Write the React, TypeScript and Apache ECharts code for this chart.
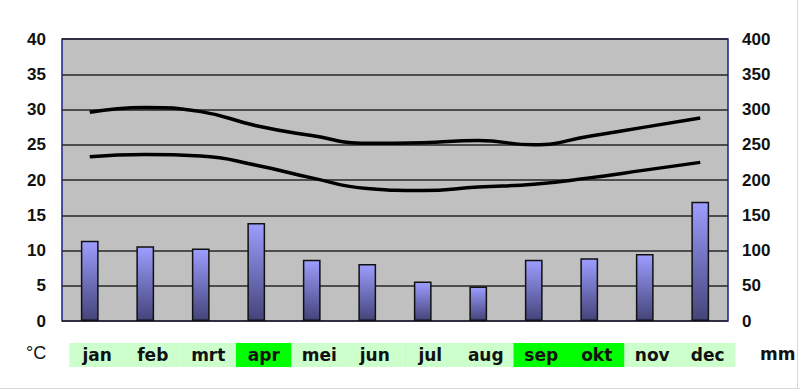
import React, { useEffect, useRef } from "react";
import * as echarts from "echarts";

const months = ["jan", "feb", "mrt", "apr", "mei", "jun", "jul", "aug", "sep", "okt", "nov", "dec"];
const highlighted = ["apr", "sep", "okt"];
const tempMax = [29.6, 30.3, 29.7, 27.7, 26.3, 25.2, 25.3, 25.6, 25.0, 26.2, 27.5, 28.8];
const tempMin = [23.3, 23.6, 23.4, 22.1, 20.3, 18.8, 18.5, 19.0, 19.4, 20.3, 21.4, 22.5];
const rainfall = [114, 106, 103, 139, 87, 81, 56, 49, 87, 89, 95, 169];

export default function App() {
  const ref = useRef<HTMLDivElement>(null);
  useEffect(() => {
    if (!ref.current) return;
    const chart = echarts.init(ref.current, undefined, { renderer: "svg" });
    const font = "Liberation Sans, Arial, sans-serif";
    const monthFont = "DejaVu Sans, Verdana, sans-serif";
    const labelColor = "#111111";
    const cell = (bg: string) => ({
      backgroundColor: bg,
      width: 55.5,
      height: 24,
      lineHeight: 24,
      align: "center",
      fontFamily: monthFont,
      fontWeight: "bold",
      fontSize: 17,
      color: labelColor,
    });
    chart.setOption({
      animation: false,
      backgroundColor: "#ffffff",
      grid: {
        left: 62,
        right: 72,
        top: 39,
        bottom: 70,
        show: true,
        backgroundColor: "#c0c0c0",
        borderColor: "#1c1c8c",
        borderWidth: 1.5,
      },
      xAxis: {
        type: "category",
        data: months,
        axisLine: { show: false },
        axisTick: { show: false },
        splitLine: { show: false },
        axisLabel: {
          margin: 22,
          interval: 0,
          formatter: (v: string) => (highlighted.includes(v) ? `{sp|}{hi|${v}}` : `{sp|}{lo|${v}}`),
          rich: {
            sp: { width: 15, height: 24 },
            hi: cell("#00ff00"),
            lo: cell("#ccffcc"),
          },
        },
      },
      yAxis: [
        {
          type: "value",
          min: 0,
          max: 40,
          interval: 5,
          axisLine: { show: false },
          axisTick: { show: false },
          splitLine: { show: true, lineStyle: { color: "#262626", width: 1.5 } },
          axisLabel: {
            margin: 16,
            fontFamily: font,
            fontWeight: "bold",
            fontSize: 17,
            color: labelColor,
          },
        },
        {
          type: "value",
          min: 0,
          max: 400,
          interval: 50,
          position: "right",
          axisLine: { show: false },
          axisTick: { show: false },
          splitLine: { show: false },
          axisLabel: {
            margin: 14,
            fontFamily: font,
            fontWeight: "bold",
            fontSize: 17,
            color: labelColor,
          },
        },
      ],
      series: [
        {
          type: "bar",
          yAxisIndex: 1,
          data: rainfall,
          barWidth: "32%",
          itemStyle: {
            borderColor: "#111111",
            borderWidth: 1.5,
            color: new echarts.graphic.LinearGradient(0, 0, 0, 1, [
              { offset: 0, color: "#9d9dff" },
              { offset: 1, color: "#44447a" },
            ]),
          },
        },
        {
          type: "line",
          yAxisIndex: 0,
          data: tempMax,
          smooth: true,
          symbol: "none",
          lineStyle: { color: "#000000", width: 3.5 },
        },
        {
          type: "line",
          yAxisIndex: 0,
          data: tempMin,
          smooth: true,
          symbol: "none",
          lineStyle: { color: "#000000", width: 3.5 },
        },
      ],
      graphic: [
        {
          type: "text",
          left: 26,
          top: 344,
          style: { text: "°C", fontFamily: font, fontSize: 18, fill: labelColor },
        },
        {
          type: "text",
          left: 760,
          top: 345,
          style: { text: "mm", fontFamily: monthFont, fontWeight: "bold", fontSize: 17, fill: labelColor },
        },
        {
          type: "rect",
          left: 0,
          top: 388,
          shape: { width: 800, height: 1 },
          style: { fill: "#d8d8d8" },
        },
        {
          type: "rect",
          left: 797,
          top: 0,
          shape: { width: 1, height: 389 },
          style: { fill: "#d8d8d8" },
        },
      ],
    });
    return () => chart.dispose();
  }, []);
  return (
    <div
      ref={ref}
      style={{ position: "fixed", left: 0, top: 0, width: 800, height: 391 }}
    />
  );
}
